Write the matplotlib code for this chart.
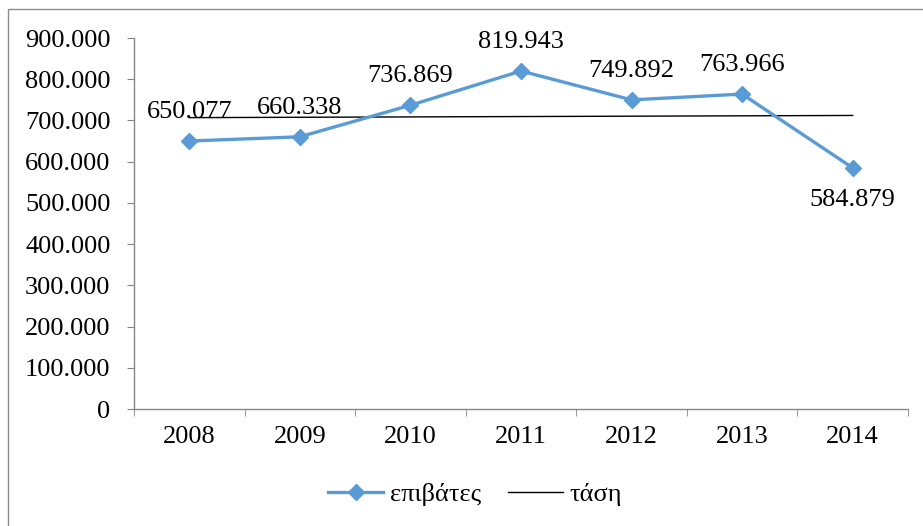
import matplotlib
matplotlib.use("Agg")
import numpy as np
from matplotlib import pyplot as plt
from matplotlib.patches import Rectangle

years = ["2008", "2009", "2010", "2011", "2012", "2013", "2014"]
passengers = [650077, 660338, 736869, 819943, 749892, 763966, 584879]
trend = [706800, 712100]   # trend line ends (2008, 2014)
yticks = [0, 100000, 200000, 300000, 400000, 500000, 600000, 700000, 800000, 900000]

plt.rcParams['font.family'] = ['Liberation Serif', 'DejaVu Serif']
blue = "#5B9BD5"
grey = "#868686"
fs = 19

fig = plt.figure(figsize=(9.23, 5.26), dpi=100)
ax = fig.add_axes([134/923, 1-409/526, 774/923, 371/526])

x = np.arange(len(years))
ax.plot(x, passengers, color=blue, lw=2.4, marker="D", ms=8.5, label="επιβάτες", zorder=3)
ax.plot([x[0], x[-1]], trend, color="black", lw=1, label="τάση", zorder=2)

# data labels
for i, v in enumerate(passengers):
    s = f"{v:,}".replace(",", ".")
    if i == len(passengers) - 1:
        ax.annotate(s, (x[i], v), xytext=(0, -15), textcoords="offset points",
                    ha="center", va="top", fontsize=fs)
    else:
        ax.annotate(s, (x[i], v), xytext=(0, 13), textcoords="offset points",
                    ha="center", va="bottom", fontsize=fs)

ax.set_xlim(-0.5, len(years) - 0.5)
ax.set_ylim(0, 900000)
ax.set_yticks(yticks)
ax.set_yticklabels([f"{t:,}".replace(",", ".") if t else "0" for t in yticks])
ax.set_xticks(x)
ax.set_xticklabels(years)
ax.set_xticks(np.arange(-0.5, len(years)), minor=True)

for side in ["top", "right"]:
    ax.spines[side].set_visible(False)
for side in ["left", "bottom"]:
    ax.spines[side].set_color(grey)
    ax.spines[side].set_linewidth(1)

ax.tick_params(axis="y", direction="out", length=5, color=grey, labelsize=fs, pad=12)
ax.tick_params(axis="x", which="major", length=0, labelsize=fs, pad=12)
ax.tick_params(axis="x", which="minor", direction="out", length=5, color=grey)

# chart frame (only left and top visible in the crop)
fig.add_artist(Rectangle((8/923, -0.2), 2, 1.2 - 9/526, transform=fig.transFigure,
                         fill=False, ec="#8c8c8c", lw=1))

fig.legend(loc="center", bbox_to_anchor=(475/923, 1-494/526), ncol=2, frameon=False,
           fontsize=fs, handlelength=2.1, columnspacing=1.0, handletextpad=0.25)

fig.savefig("out.png", dpi=100)
